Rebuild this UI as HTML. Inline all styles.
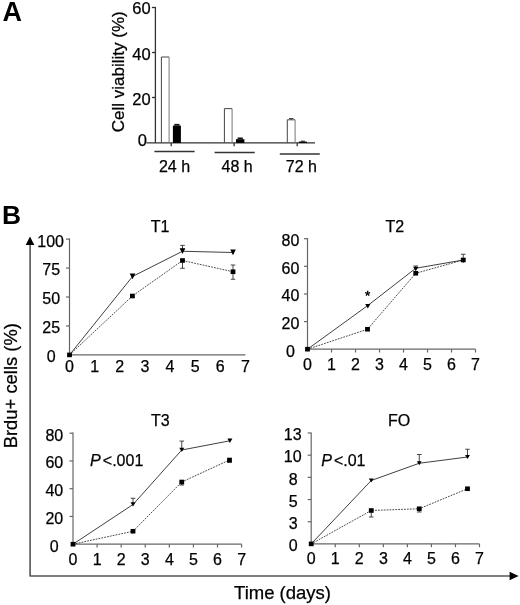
<!DOCTYPE html>
<html><head><meta charset="utf-8"><title>Figure</title>
<style>
html,body{margin:0;padding:0;background:#fff;}
svg{display:block;font-family:"Liberation Sans",Arial,sans-serif;fill:#000;}
text{stroke:#000;stroke-width:0.25px;}
.ax{stroke:#666;stroke-width:1.2;fill:none;}
.axa{stroke:#333;stroke-width:1.3;fill:none;}
.big{stroke:#555;stroke-width:1.6;fill:none;stroke-linejoin:round;}
.ln{stroke:#2a2a2a;stroke-width:0.9;fill:none;}
.ds{stroke:#2a2a2a;stroke-width:0.85;fill:none;stroke-dasharray:1.8 1.1;}
.eb{stroke:#333;stroke-width:0.9;fill:none;}
</style></head><body>
<svg width="520" height="605" viewBox="0 0 520 605">
<rect width="520" height="605" fill="#fff"/>
<text x="2.5" y="21" font-size="27" text-anchor="start" font-weight="bold" style="stroke:none">A</text>
<text x="2.0" y="224.3" font-size="26.4" text-anchor="start" font-weight="bold" style="stroke:none">B</text>
<line class="axa" x1="155.4" y1="6.9" x2="155.4" y2="142.9"/>
<line class="axa" x1="146.3" y1="142.9" x2="315" y2="142.9"/>
<line class="axa" x1="151.9" y1="7.5" x2="155.4" y2="7.5"/>
<text x="150.6" y="14.3" font-size="16.5" text-anchor="end" >60</text>
<line class="axa" x1="151.9" y1="52.5" x2="155.4" y2="52.5"/>
<text x="150.6" y="59.8" font-size="16.5" text-anchor="end" >40</text>
<line class="axa" x1="151.9" y1="97.5" x2="155.4" y2="97.5"/>
<text x="150.6" y="104.7" font-size="16.5" text-anchor="end" >20</text>
<text x="146.9" y="145.6" font-size="16.5" text-anchor="end" >0</text>
<text transform="translate(123.6,132.2) rotate(-90)" font-size="17" text-anchor="start">Cell viability (%)</text>
<path d="M161.4,142.9 V57 H169.1" fill="none" stroke="#444" stroke-width="1"/>
<path d="M169.1,57 V142.9" fill="none" stroke="#777" stroke-width="1"/>
<rect x="172.9" y="125.6" width="8.0" height="17.3" fill="#000"/>
<rect x="174.3" y="123.9" width="5.2" height="1.8" fill="#111"/>
<path d="M224.4,142.9 V108.65 H232.1" fill="none" stroke="#444" stroke-width="1"/>
<path d="M232.1,108.65 V142.9" fill="none" stroke="#777" stroke-width="1"/>
<rect x="236" y="139.2" width="8.4" height="3.7" fill="#000"/>
<rect x="237.6" y="137.5" width="5.2" height="1.8" fill="#111"/>
<path d="M287.3,142.9 V119.8 H295.1" fill="none" stroke="#444" stroke-width="1"/>
<path d="M295.1,119.8 V142.9" fill="none" stroke="#777" stroke-width="1"/>
<rect x="298.8" y="141.6" width="8.1" height="1.3" fill="#000"/>
<rect x="300.85" y="140.7" width="4" height="1.0" fill="#111"/>
<line class="eb" x1="291.2" y1="118.5" x2="291.2" y2="119.8"/>
<line class="eb" x1="289" y1="118.5" x2="293.4" y2="118.5"/>
<line class="axa" x1="171.2" y1="142.9" x2="171.2" y2="146.20000000000002"/>
<line class="axa" x1="234.1" y1="142.9" x2="234.1" y2="146.20000000000002"/>
<line class="axa" x1="297.2" y1="142.9" x2="297.2" y2="146.20000000000002"/>
<line class="axa" x1="154.4" y1="151.5" x2="194.6" y2="151.5"/>
<line class="axa" x1="214.6" y1="152.5" x2="254.75" y2="152.5"/>
<line class="axa" x1="279.8" y1="154" x2="319.8" y2="154"/>
<text x="174.5" y="172" font-size="16" text-anchor="middle" >24 h</text>
<text x="237.1" y="172" font-size="16" text-anchor="middle" >48 h</text>
<text x="301.4" y="172" font-size="16" text-anchor="middle" >72 h</text>
<polyline class="big" points="30.1,244 30.1,576 510,576"/>
<polygon points="30,236.5 25.7,244.9 34.3,244.9" fill="#000"/>
<polygon points="518.6,576 509.6,571.8 509.6,580.2" fill="#000"/>
<text transform="translate(17.1,448.3) rotate(-90)" font-size="18.4" text-anchor="start">Brdu+ cells (%)</text>
<text x="282.5" y="598.9" font-size="18.5" text-anchor="middle" >Time (days)</text>
<line class="ax" x1="69.5" y1="238.5" x2="69.5" y2="354.9"/>
<line class="ax" x1="69.5" y1="354.9" x2="245.4" y2="354.9"/>
<line class="ax" x1="66.0" y1="239.1" x2="69.5" y2="239.1"/>
<text x="50.6" y="246.5" font-size="16" text-anchor="middle" >100</text>
<line class="ax" x1="66.0" y1="268.05" x2="69.5" y2="268.05"/>
<text x="51.2" y="275.45" font-size="16" text-anchor="middle" >75</text>
<line class="ax" x1="66.0" y1="297.0" x2="69.5" y2="297.0"/>
<text x="51.2" y="304.4" font-size="16" text-anchor="middle" >50</text>
<line class="ax" x1="66.0" y1="325.95" x2="69.5" y2="325.95"/>
<text x="51.2" y="333.35" font-size="16" text-anchor="middle" >25</text>
<text x="51.2" y="362.3" font-size="16" text-anchor="middle" >0</text>
<text x="69.5" y="371.6" font-size="16" text-anchor="middle" >0</text>
<text x="94.63" y="371.6" font-size="16" text-anchor="middle" >1</text>
<text x="119.76" y="371.6" font-size="16" text-anchor="middle" >2</text>
<text x="144.89" y="371.6" font-size="16" text-anchor="middle" >3</text>
<text x="170.01" y="371.6" font-size="16" text-anchor="middle" >4</text>
<text x="195.14" y="371.6" font-size="16" text-anchor="middle" >5</text>
<text x="220.27" y="371.6" font-size="16" text-anchor="middle" >6</text>
<text x="245.4" y="371.6" font-size="16" text-anchor="middle" >7</text>
<text x="160.1" y="232.1" font-size="16" text-anchor="middle" >T1</text>
<polyline class="ln" points="69.5,354.9 132.5,276.5 182.5,251.25 233,252.5"/>
<polyline class="ds" points="69.5,354.9 132.4,296 182.5,260.5 233,271.75"/>
<line class="eb" x1="182.5" y1="251.25" x2="182.5" y2="245.4"/>
<line class="eb" x1="180.2" y1="245.4" x2="184.8" y2="245.4"/>
<line class="eb" x1="182.5" y1="251.25" x2="182.5" y2="249.2"/>
<line class="eb" x1="180.2" y1="249.2" x2="184.8" y2="249.2"/>
<line class="eb" x1="182.5" y1="260.5" x2="182.5" y2="268.25"/>
<line class="eb" x1="180.2" y1="268.25" x2="184.8" y2="268.25"/>
<line class="eb" x1="233" y1="271.75" x2="233" y2="265"/>
<line class="eb" x1="230.7" y1="265" x2="235.3" y2="265"/>
<line class="eb" x1="233" y1="271.75" x2="233" y2="279.25"/>
<line class="eb" x1="230.7" y1="279.25" x2="235.3" y2="279.25"/>
<polygon points="129.7,273.6 135.3,273.6 132.5,279.2" fill="#000"/>
<polygon points="179.7,248.35 185.3,248.35 182.5,253.95" fill="#000"/>
<polygon points="230.2,249.6 235.8,249.6 233,255.2" fill="#000"/>
<rect x="67.1" y="352.59999999999997" width="4.8" height="4.6" fill="#000"/>
<rect x="130.0" y="293.7" width="4.8" height="4.6" fill="#000"/>
<rect x="180.1" y="258.2" width="4.8" height="4.6" fill="#000"/>
<rect x="230.6" y="269.45" width="4.8" height="4.6" fill="#000"/>
<line class="ax" x1="307.5" y1="238.1" x2="307.5" y2="349.2"/>
<line class="ax" x1="307.5" y1="349.2" x2="475.5" y2="349.2"/>
<line class="ax" x1="304.0" y1="238.7" x2="307.5" y2="238.7"/>
<text x="290.5" y="246.0" font-size="16" text-anchor="middle" >80</text>
<line class="ax" x1="304.0" y1="266.325" x2="307.5" y2="266.325"/>
<text x="290.5" y="273.62" font-size="16" text-anchor="middle" >60</text>
<line class="ax" x1="304.0" y1="293.95" x2="307.5" y2="293.95"/>
<text x="290.5" y="301.25" font-size="16" text-anchor="middle" >40</text>
<line class="ax" x1="304.0" y1="321.575" x2="307.5" y2="321.575"/>
<text x="290.5" y="328.88" font-size="16" text-anchor="middle" >20</text>
<text x="290.5" y="356.5" font-size="16" text-anchor="middle" >0</text>
<text x="307.5" y="369.6" font-size="16" text-anchor="middle" >0</text>
<line class="ax" x1="331.5" y1="349.2" x2="331.5" y2="352.5"/>
<text x="331.5" y="369.6" font-size="16" text-anchor="middle" >1</text>
<line class="ax" x1="355.5" y1="349.2" x2="355.5" y2="352.5"/>
<text x="355.5" y="369.6" font-size="16" text-anchor="middle" >2</text>
<line class="ax" x1="379.5" y1="349.2" x2="379.5" y2="352.5"/>
<text x="379.5" y="369.6" font-size="16" text-anchor="middle" >3</text>
<line class="ax" x1="403.5" y1="349.2" x2="403.5" y2="352.5"/>
<text x="403.5" y="369.6" font-size="16" text-anchor="middle" >4</text>
<line class="ax" x1="427.5" y1="349.2" x2="427.5" y2="352.5"/>
<text x="427.5" y="369.6" font-size="16" text-anchor="middle" >5</text>
<line class="ax" x1="451.5" y1="349.2" x2="451.5" y2="352.5"/>
<text x="451.5" y="369.6" font-size="16" text-anchor="middle" >6</text>
<line class="ax" x1="475.5" y1="349.2" x2="475.5" y2="352.5"/>
<text x="475.5" y="369.6" font-size="16" text-anchor="middle" >7</text>
<text x="394.8" y="232.2" font-size="16" text-anchor="middle" >T2</text>
<polyline class="ln" points="307.5,349.2 367.8,305.5 415.75,268.25 463.25,260"/>
<polyline class="ds" points="307.5,349.2 367.5,329.25 415.75,273.25 463.25,260"/>
<line class="eb" x1="463.25" y1="260" x2="463.25" y2="254.25"/>
<line class="eb" x1="460.95" y1="254.25" x2="465.55" y2="254.25"/>
<line class="eb" x1="415.75" y1="268.25" x2="415.75" y2="266"/>
<line class="eb" x1="413.45" y1="266" x2="418.05" y2="266"/>
<polygon points="365.2,304.1 370.4,304.1 367.8,308.6" fill="#000"/>
<polygon points="413.15,266.85 418.35,266.85 415.75,271.35" fill="#000"/>
<polygon points="460.65,258.6 465.85,258.6 463.25,263.1" fill="#000"/>
<rect x="305.1" y="346.9" width="4.8" height="4.6" fill="#000"/>
<rect x="365.1" y="326.95" width="4.8" height="4.6" fill="#000"/>
<rect x="413.35" y="270.95" width="4.8" height="4.6" fill="#000"/>
<rect x="460.85" y="257.7" width="4.8" height="4.6" fill="#000"/>
<text x="367.7" y="299.9" font-size="13.5" text-anchor="middle" style="stroke-width:0.5px">*</text>
<line class="ax" x1="73" y1="432.59999999999997" x2="73" y2="544.2"/>
<line class="ax" x1="73" y1="544.2" x2="241.6" y2="544.2"/>
<line class="ax" x1="69.5" y1="433.2" x2="73" y2="433.2"/>
<text x="54.3" y="440.5" font-size="16" text-anchor="middle" >80</text>
<line class="ax" x1="69.5" y1="460.95" x2="73" y2="460.95"/>
<text x="54.3" y="468.25" font-size="16" text-anchor="middle" >60</text>
<line class="ax" x1="69.5" y1="488.70000000000005" x2="73" y2="488.70000000000005"/>
<text x="54.3" y="496.0" font-size="16" text-anchor="middle" >40</text>
<line class="ax" x1="69.5" y1="516.45" x2="73" y2="516.45"/>
<text x="54.3" y="523.75" font-size="16" text-anchor="middle" >20</text>
<text x="54.3" y="551.5" font-size="16" text-anchor="middle" >0</text>
<text x="73.0" y="564.5" font-size="16" text-anchor="middle" >0</text>
<line class="ax" x1="97.09" y1="544.2" x2="97.09" y2="547.5"/>
<text x="97.09" y="564.5" font-size="16" text-anchor="middle" >1</text>
<line class="ax" x1="121.17" y1="544.2" x2="121.17" y2="547.5"/>
<text x="121.17" y="564.5" font-size="16" text-anchor="middle" >2</text>
<line class="ax" x1="145.26" y1="544.2" x2="145.26" y2="547.5"/>
<text x="145.26" y="564.5" font-size="16" text-anchor="middle" >3</text>
<line class="ax" x1="169.34" y1="544.2" x2="169.34" y2="547.5"/>
<text x="169.34" y="564.5" font-size="16" text-anchor="middle" >4</text>
<line class="ax" x1="193.43" y1="544.2" x2="193.43" y2="547.5"/>
<text x="193.43" y="564.5" font-size="16" text-anchor="middle" >5</text>
<line class="ax" x1="217.51" y1="544.2" x2="217.51" y2="547.5"/>
<text x="217.51" y="564.5" font-size="16" text-anchor="middle" >6</text>
<line class="ax" x1="241.6" y1="544.2" x2="241.6" y2="547.5"/>
<text x="241.6" y="564.5" font-size="16" text-anchor="middle" >7</text>
<text x="160.3" y="426.3" font-size="16" text-anchor="middle" >T3</text>
<polyline class="ln" points="73,544.2 133,504.5 181.75,450 229.9,440.8"/>
<polyline class="ds" points="73,544.2 133,531.25 181.75,482 229.5,460"/>
<line class="eb" x1="133" y1="504.5" x2="133" y2="498.25"/>
<line class="eb" x1="130.7" y1="498.25" x2="135.3" y2="498.25"/>
<line class="eb" x1="181.75" y1="450" x2="181.75" y2="441.1"/>
<line class="eb" x1="179.45" y1="441.1" x2="184.05" y2="441.1"/>
<line class="eb" x1="181.75" y1="482" x2="181.75" y2="485"/>
<line class="eb" x1="179.45" y1="485" x2="184.05" y2="485"/>
<line class="eb" x1="229.5" y1="460" x2="229.5" y2="462.5"/>
<line class="eb" x1="227.2" y1="462.5" x2="231.8" y2="462.5"/>
<polygon points="130.5,502.2 135.5,502.2 133,506.6" fill="#000"/>
<polygon points="179.25,447.7 184.25,447.7 181.75,452.1" fill="#000"/>
<polygon points="227.4,438.5 232.4,438.5 229.9,442.9" fill="#000"/>
<rect x="70.6" y="541.9000000000001" width="4.8" height="4.6" fill="#000"/>
<rect x="130.6" y="528.95" width="4.8" height="4.6" fill="#000"/>
<rect x="179.35" y="479.7" width="4.8" height="4.6" fill="#000"/>
<rect x="227.1" y="457.7" width="4.8" height="4.6" fill="#000"/>
<text x="90" y="465.5" font-size="16" font-style="italic">P</text>
<text x="143.3" y="465.5" font-size="16" text-anchor="end">&lt;.001</text>
<line class="ax" x1="311.2" y1="432.4" x2="311.2" y2="543.9"/>
<line class="ax" x1="311.2" y1="543.9" x2="479.5" y2="543.9"/>
<line class="ax" x1="307.7" y1="433.0" x2="311.2" y2="433.0"/>
<text x="292.7" y="440.3" font-size="16" text-anchor="middle" >13</text>
<line class="ax" x1="307.7" y1="455.18" x2="311.2" y2="455.18"/>
<text x="292.7" y="462.48" font-size="16" text-anchor="middle" >10</text>
<line class="ax" x1="307.7" y1="477.36" x2="311.2" y2="477.36"/>
<text x="293.3" y="484.66" font-size="16" text-anchor="middle" >8</text>
<line class="ax" x1="307.7" y1="499.53999999999996" x2="311.2" y2="499.53999999999996"/>
<text x="293.3" y="506.84" font-size="16" text-anchor="middle" >5</text>
<line class="ax" x1="307.7" y1="521.72" x2="311.2" y2="521.72"/>
<text x="293.3" y="529.02" font-size="16" text-anchor="middle" >3</text>
<text x="293.3" y="551.2" font-size="16" text-anchor="middle" >0</text>
<text x="311.2" y="563.7" font-size="16" text-anchor="middle" >0</text>
<line class="ax" x1="335.24" y1="543.9" x2="335.24" y2="547.1999999999999"/>
<text x="335.24" y="563.7" font-size="16" text-anchor="middle" >1</text>
<line class="ax" x1="359.29" y1="543.9" x2="359.29" y2="547.1999999999999"/>
<text x="359.29" y="563.7" font-size="16" text-anchor="middle" >2</text>
<line class="ax" x1="383.33" y1="543.9" x2="383.33" y2="547.1999999999999"/>
<text x="383.33" y="563.7" font-size="16" text-anchor="middle" >3</text>
<line class="ax" x1="407.37" y1="543.9" x2="407.37" y2="547.1999999999999"/>
<text x="407.37" y="563.7" font-size="16" text-anchor="middle" >4</text>
<line class="ax" x1="431.41" y1="543.9" x2="431.41" y2="547.1999999999999"/>
<text x="431.41" y="563.7" font-size="16" text-anchor="middle" >5</text>
<line class="ax" x1="455.46" y1="543.9" x2="455.46" y2="547.1999999999999"/>
<text x="455.46" y="563.7" font-size="16" text-anchor="middle" >6</text>
<line class="ax" x1="479.5" y1="543.9" x2="479.5" y2="547.1999999999999"/>
<text x="479.5" y="563.7" font-size="16" text-anchor="middle" >7</text>
<text x="399" y="426.4" font-size="16" text-anchor="middle" >FO</text>
<polyline class="ln" points="311.2,543.9 371.25,480.5 419.25,463.25 467.5,457"/>
<polyline class="ds" points="311.2,543.9 371.25,510.5 419.25,508.75 467.5,488.75"/>
<line class="eb" x1="371.25" y1="510.5" x2="371.25" y2="517"/>
<line class="eb" x1="368.95" y1="517" x2="373.55" y2="517"/>
<line class="eb" x1="419.25" y1="463.25" x2="419.25" y2="454.5"/>
<line class="eb" x1="416.95" y1="454.5" x2="421.55" y2="454.5"/>
<line class="eb" x1="419.25" y1="508.75" x2="419.25" y2="512"/>
<line class="eb" x1="416.95" y1="512" x2="421.55" y2="512"/>
<line class="eb" x1="467.5" y1="457" x2="467.5" y2="449.25"/>
<line class="eb" x1="465.2" y1="449.25" x2="469.8" y2="449.25"/>
<polygon points="368.85,478.6 373.65,478.6 371.25,482.5" fill="#000"/>
<polygon points="416.85,461.35 421.65,461.35 419.25,465.25" fill="#000"/>
<polygon points="465.1,455.1 469.9,455.1 467.5,459.0" fill="#000"/>
<rect x="308.8" y="541.6" width="4.8" height="4.6" fill="#000"/>
<rect x="368.85" y="508.2" width="4.8" height="4.6" fill="#000"/>
<rect x="416.85" y="506.45" width="4.8" height="4.6" fill="#000"/>
<rect x="465.1" y="486.45" width="4.8" height="4.6" fill="#000"/>
<text x="321.25" y="465.5" font-size="16" font-style="italic">P</text>
<text x="365.5" y="465.5" font-size="16" text-anchor="end">&lt;.01</text>
</svg></body></html>
